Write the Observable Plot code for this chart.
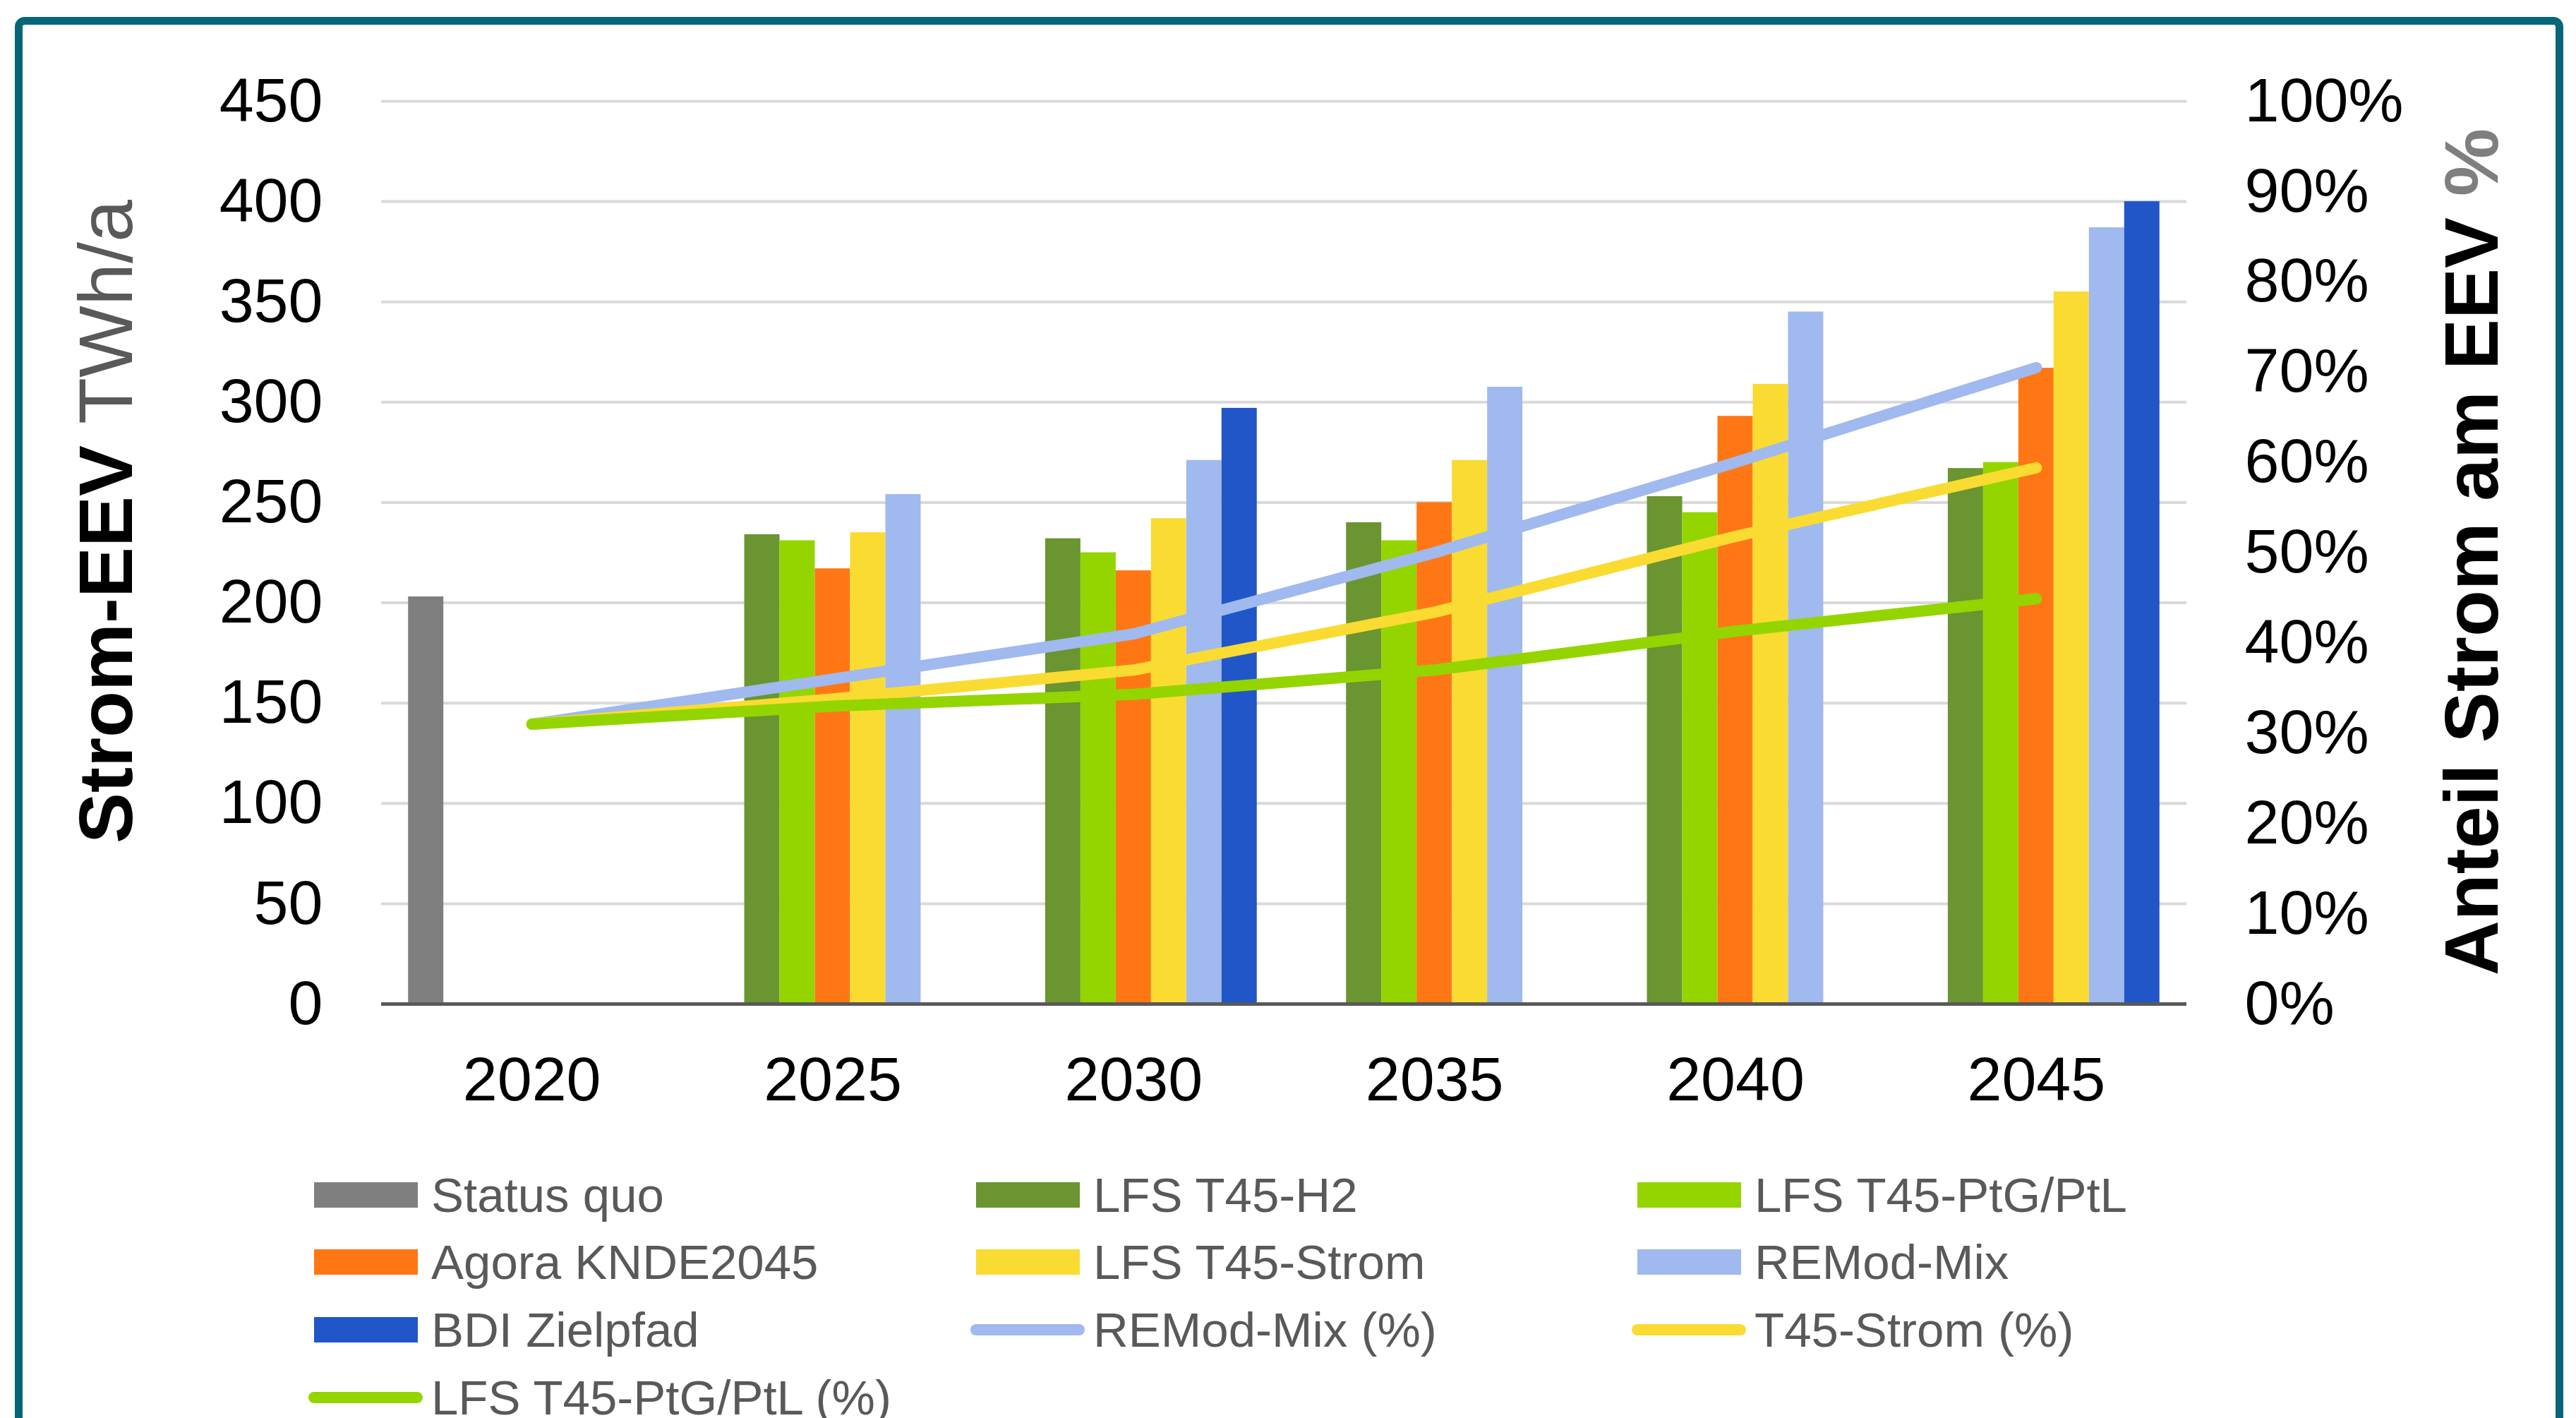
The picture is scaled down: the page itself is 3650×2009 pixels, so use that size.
<!DOCTYPE html>
<html><head><meta charset="utf-8">
<script src="https://cdn.jsdelivr.net/npm/d3@7"></script>
<script src="https://cdn.jsdelivr.net/npm/@observablehq/plot@0.6"></script>
<style>
html,body{margin:0;padding:0;background:#fff;}
#wrap{position:relative;width:3650px;height:2009px;overflow:hidden;background:#fff;font-family:"Liberation Sans",Arial,sans-serif;}
#frame{position:absolute;left:21px;top:24px;width:3611px;height:2300px;border:11px solid #05667A;border-radius:14px;box-sizing:border-box;}
#chart{position:absolute;left:0;top:0;}
.leg{position:absolute;display:flex;align-items:center;height:60px;font-size:69px;color:#595959;white-space:nowrap;}
.sw{width:147px;height:36px;margin-right:19px;flex:none;}
.ln{width:162px;height:16px;border-radius:8px;margin-left:-8px;margin-right:12px;flex:none;}
</style></head><body>
<div id="wrap"><div id="frame"></div><div id="chart"></div><div id="legend"></div></div>
<script>
// ---- data ----
const years = [2020, 2025, 2030, 2035, 2040, 2045];
const seriesNames = ["Status quo", "LFS T45-H2", "LFS T45-PtG/PtL", "Agora KNDE2045", "LFS T45-Strom", "REMod-Mix", "BDI Zielpfad"];
const statusQuo = [203, null, null, null, null, null];
const lfsH2     = [null, 234, 232, 240, 253, 267];
const lfsPtG    = [null, 231, 225, 231, 245, 270];
const agora     = [null, 217, 216, 250, 293, 317];
const lfsStrom  = [null, 235, 242, 271, 309, 355];
const remodMix  = [null, 254, 271, 307.5, 345, 387];
const bdi       = [null, null, 297, null, null, 400];
const barColors = ["#7F7F7F", "#6A9530", "#94D500", "#FF7715", "#FADB32", "#A0B9EE", "#2156C9"];

const lineNames = ["REMod-Mix (%)", "T45-Strom (%)", "LFS T45-PtG/PtL (%)"];
const remodPct = [31, 36, 41, 50, 60, 70.5];
const stromPct = [31, 33.8, 37, 43.4, 51.8, 59.4];
const ptgPct   = [31, 33, 34.3, 37, 41.3, 44.9];
const lineColors = ["#A0B9EE", "#FADB32", "#94D500"];

const yTicks = [0, 50, 100, 150, 200, 250, 300, 350, 400, 450];
const pctTicks = [0, 10, 20, 30, 40, 50, 60, 70, 80, 90, 100];
const pctPerUnit = 450 / 100; // 100 % on the right axis spans the same height as 450 TWh/a

// ---- tables ----
const barSeries = [statusQuo, lfsH2, lfsPtG, agora, lfsStrom, remodMix, bdi];
const bars = barSeries.flatMap((vals, s) =>
  years.map((yr, i) => ({series: seriesNames[s], slot: s, year: yr, value: vals[i]}))
).filter(d => d.value != null);
const catW = 5, nSlots = 7, gapRatio = 1.53;
const slotW = catW / (nSlots + gapRatio);
const lineSeries = [remodPct, stromPct, ptgPct].map((vals, k) =>
  years.map((yr, i) => ({name: lineNames[k], year: yr, pct: vals[i]})));

const font = '"Liberation Sans", Arial, sans-serif';
const chart = Plot.plot({
  width: 3650, height: 1620,
  marginLeft: 540, marginRight: 552, marginTop: 143, marginBottom: 198,
  style: {fontFamily: font, color: "#000", background: "transparent", overflow: "visible"},
  x: {type: "linear", domain: [2017.5, 2047.5]},
  y: {domain: [0, 450]},
  color: {domain: seriesNames, range: barColors},
  marks: [
    Plot.gridY(yTicks.filter(d => d > 0), {stroke: "#D9D9D9", strokeWidth: 4, strokeOpacity: 1}),
    Plot.rectY(bars, {
      x1: d => d.year + (d.slot - nSlots / 2) * slotW,
      x2: d => d.year + (d.slot - nSlots / 2 + 1) * slotW,
      y1: 0, y2: "value", fill: "series", inset: 0
    }),
    Plot.ruleY([0], {stroke: "#595959", strokeWidth: 5}),
    ...lineSeries.map((data, k) => Plot.line(data, {
      x: "year", y: d => d.pct * pctPerUnit, stroke: lineColors[k],
      strokeWidth: 16, strokeLinecap: "round", strokeLinejoin: "round"
    })),
    Plot.axisY(yTicks, {anchor: "left", tickSize: 0, tickPadding: 83, fontSize: 88, label: null, fill: "#000"}),
    Plot.axisY(pctTicks.map(p => p * pctPerUnit), {anchor: "right", tickSize: 0, tickPadding: 82, fontSize: 88, label: null, fill: "#000",
      tickFormat: d => Math.round(d / pctPerUnit) + "%"}),
    Plot.axisX(years, {anchor: "bottom", tickSize: 0, tickPadding: 74, fontSize: 88, label: null, fill: "#000",
      tickFormat: d => String(d)})
  ]
});
document.getElementById("chart").appendChild(chart);

// axis titles (mixed styles)
const svg = d3.select(chart);
const lt = svg.append("text")
  .attr("transform", "translate(187,739) rotate(-90)")
  .attr("text-anchor", "middle").attr("font-size", 108).attr("font-family", font);
lt.append("tspan").attr("font-weight", "bold").attr("fill", "#000").text("Strom-EEV ");
lt.append("tspan").attr("fill", "#595959").text("TWh/a");
const rt = svg.append("text")
  .attr("transform", "translate(3539,782) rotate(-90)")
  .attr("text-anchor", "middle").attr("font-size", 108).attr("font-family", font).attr("font-weight", "bold");
rt.append("tspan").attr("fill", "#000").text("Anteil Strom am EEV ");
rt.append("tspan").attr("fill", "#7F7F7F").text("%");

// legend
const legendItems = [
  ...seriesNames.map((n, i) => ({name: n, color: barColors[i], type: "bar"})),
  ...lineNames.map((n, i) => ({name: n, color: lineColors[i], type: "line"}))
];
const colX = [445, 1383, 2320];
const rowC = [1693, 1788, 1884, 1980];
const leg = document.getElementById("legend");
legendItems.forEach((it, i) => {
  const d = document.createElement("div");
  d.className = "leg";
  d.style.left = colX[i % 3] + "px";
  d.style.top = (rowC[Math.floor(i / 3)] - 30) + "px";
  const s = document.createElement("div");
  s.className = it.type === "bar" ? "sw" : "ln";
  s.style.background = it.color;
  const t = document.createElement("span");
  t.textContent = it.name;
  d.appendChild(s); d.appendChild(t);
  leg.appendChild(d);
});
</script>
</body></html>
